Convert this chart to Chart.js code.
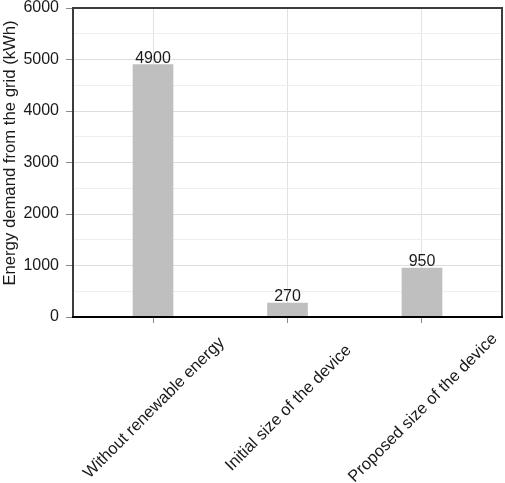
<!DOCTYPE html>
<html>
<head>
<meta charset="utf-8">
<script src="https://cdn.jsdelivr.net/npm/chart.js@4/dist/chart.umd.min.js"></script>
<style>
html,body{margin:0;padding:0;background:#fff;}
#wrap{width:505px;height:483px;}
</style>
</head>
<body>
<div id="wrap"><canvas id="c" width="505" height="483"></canvas></div>
<script>
const categories = ["Without renewable energy", "Initial size of the device", "Proposed size of the device"];
const energyDemand = [4900, 270, 950];
const yTickValues = [0, 1000, 2000, 3000, 4000, 5000, 6000];
const yAxisTitle = "Energy demand from the grid (kWh)";

const FONT = "'Liberation Sans', Arial, sans-serif";
const TEXT = "#1a1a1a";

const decorPlugin = {
  id: 'decor',
  afterDatasetsDraw(chart) {
    const ctx = chart.ctx;
    const a = chart.chartArea;
    const xs = chart.scales.x, ys = chart.scales.y;
    ctx.save();
    // frame
    ctx.strokeStyle = '#3c3c3c';
    ctx.lineWidth = 2;
    ctx.beginPath();
    ctx.moveTo(a.left, a.bottom);
    ctx.lineTo(a.left, a.top);
    ctx.lineTo(a.right, a.top);
    ctx.lineTo(a.right, a.bottom);
    ctx.stroke();
    ctx.strokeStyle = '#000';
    ctx.beginPath();
    ctx.moveTo(a.left - 1, a.bottom);
    ctx.lineTo(a.right + 1, a.bottom);
    ctx.stroke();
    // value labels
    ctx.fillStyle = TEXT;
    ctx.font = "16px " + FONT;
    ctx.textAlign = 'center';
    ctx.textBaseline = 'alphabetic';
    energyDemand.forEach((v, i) => {
      ctx.fillText(String(v), xs.getPixelForValue(i), ys.getPixelForValue(v) - 2);
    });
    // rotated category labels, centered on the tick
    ctx.font = "16.5px " + FONT;
    categories.forEach((lab, i) => {
      ctx.save();
      ctx.translate(xs.getPixelForValue(i) + 1, a.bottom + 91);
      ctx.rotate(-Math.PI / 4);
      ctx.textAlign = 'center';
      ctx.textBaseline = 'middle';
      ctx.fillText(lab, 0, 0);
      ctx.restore();
    });
    // y axis title
    ctx.font = "16.7px " + FONT;
    ctx.save();
    ctx.translate(10, 153);
    ctx.rotate(-Math.PI / 2);
    ctx.textAlign = 'center';
    ctx.textBaseline = 'middle';
    ctx.fillText(yAxisTitle, 0, 0);
    ctx.restore();
    ctx.restore();
  }
};

new Chart(document.getElementById('c'), {
  type: 'bar',
  data: {
    datasets: [{
      data: energyDemand.map((v, i) => ({x: i, y: v})),
      backgroundColor: '#bfbfbf',
      borderWidth: 0,
      barThickness: 40
    }]
  },
  options: {
    responsive: false,
    animation: false,
    devicePixelRatio: 1,
    layout: {padding: {top: 8, right: 3, left: 0, bottom: 0}},
    plugins: {legend: {display: false}, tooltip: {enabled: false}},
    scales: {
      x: {
        type: 'linear',
        offset: false,
        min: -0.595,
        max: categories.length - 1 + 0.595,
        afterBuildTicks: s => { s.ticks = categories.map((c, i) => ({value: i})); },
        afterFit: s => { s.height = 166; s.paddingLeft = 0; s.paddingRight = 0; },
        ticks: {display: false},
        border: {display: false},
        grid: {offset: false, color: '#e2e2e2', lineWidth: 1, drawTicks: true, tickLength: 6, tickColor: '#8a8a8a'}
      },
      y: {
        min: 0,
        max: 6000,
        afterBuildTicks: s => {
          const t = [];
          for (let v = 0; v <= 6000; v += 500) t.push({value: v});
          s.ticks = t;
        },
        afterFit: s => { s.width = 73; s.paddingTop = 0; s.paddingBottom = 0; },
        border: {display: false},
        ticks: {
          padding: 7,
          color: TEXT,
          font: {family: FONT, size: 16},
          callback: v => yTickValues.includes(v) ? String(v) : ''
        },
        grid: {
          tickLength: 7,
          color: c => (c.tick && c.tick.value % 1000 === 0) ? '#dedede' : '#eeeeee',
          tickColor: c => (c.tick && c.tick.value % 1000 === 0) ? '#8a8a8a' : 'rgba(0,0,0,0)'
        },
        title: {display: false}
      }
    }
  },
  plugins: [decorPlugin]
});
</script>
</body>
</html>
